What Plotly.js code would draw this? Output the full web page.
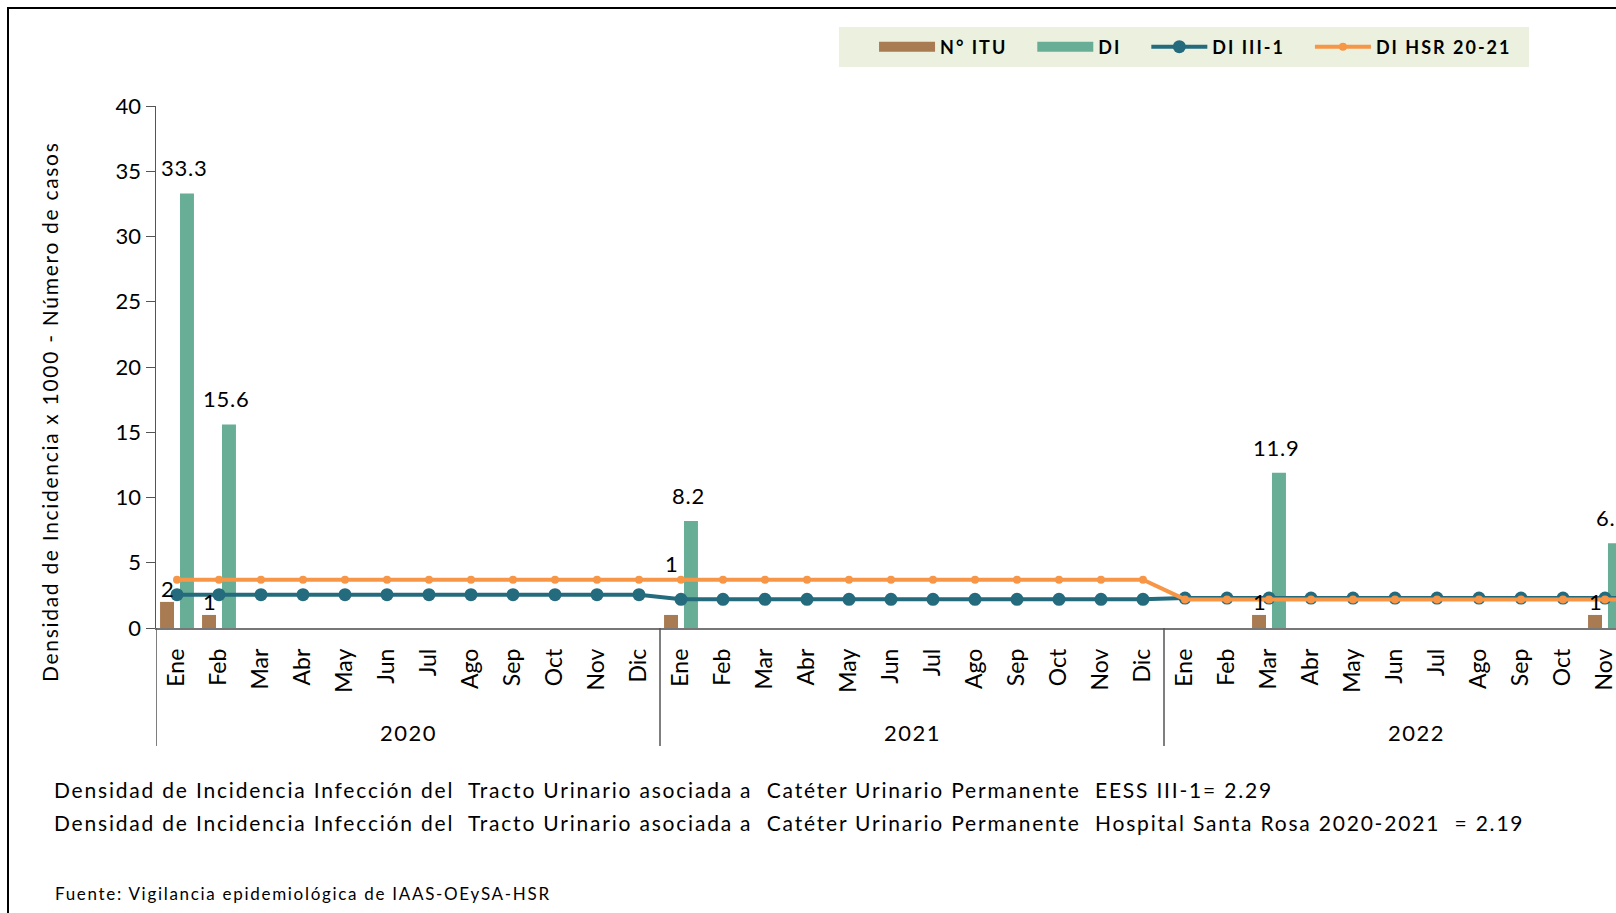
<!DOCTYPE html>
<html>
<head>
<meta charset="utf-8">
<script src="https://cdn.plot.ly/plotly-3.0.1.min.js"></script>
<style>
html, body { margin:0; padding:0; overflow:hidden; background:#fff; }
#chart { position:absolute; left:0; top:0; width:1760px; height:913px; }
#frame { position:absolute; left:7px; top:7px; width:1800px; height:1000px; border:2px solid #000; pointer-events:none; z-index:10; }
</style>
</head>
<body>
<div id="chart"></div>
<div id="frame"></div>
<script>
// ---- data ----
const months = ['Ene','Feb','Mar','Abr','May','Jun','Jul','Ago','Sep','Oct','Nov','Dic'];
const years = ['2020','2021','2022'];
const nITU = [2,1,0,0,0,0,0,0,0,0,0,0,
              1,0,0,0,0,0,0,0,0,0,0,0,
              0,0,1,0,0,0,0,0,0,0,1,0];
const di = [33.3,15.6,0,0,0,0,0,0,0,0,0,0,
            8.2,0,0,0,0,0,0,0,0,0,0,0,
            0,0,11.9,0,0,0,0,0,0,0,6.5,0];
const diIII1 = [2.55,2.55,2.55,2.55,2.55,2.55,2.55,2.55,2.55,2.55,2.55,2.55,
                2.2,2.2,2.2,2.2,2.2,2.2,2.2,2.2,2.2,2.2,2.2,2.2,
                2.29,2.29,2.29,2.29,2.29,2.29,2.29,2.29,2.29,2.29,2.29,2.29];
const diHSR = [3.7,3.7,3.7,3.7,3.7,3.7,3.7,3.7,3.7,3.7,3.7,3.7,
               3.7,3.7,3.7,3.7,3.7,3.7,3.7,3.7,3.7,3.7,3.7,3.7,
               2.19,2.19,2.19,2.19,2.19,2.19,2.19,2.19,2.19,2.19,2.19,2.19];
const seriesNames = ['N° ITU','DI','DI III-1','DI HSR 20-21'];
const yTickVals = [0,5,10,15,20,25,30,35,40];
const yTitle = 'Densidad de Incidencia x 1000 - Número de casos';
const notes = [
  'Densidad de Incidencia Infección del  Tracto Urinario asociada a  Catéter Urinario Permanente  EESS III-1= 2.29',
  'Densidad de Incidencia Infección del  Tracto Urinario asociada a  Catéter Urinario Permanente  Hospital Santa Rosa 2020-2021  = 2.19'
];
const source = 'Fuente: Vigilancia epidemiológica de IAAS-OEySA-HSR';

// ---- derived ----
const idx = [];
const tickText = [];
years.forEach((y, yi) => months.forEach((m, mi) => { idx.push(yi*12+mi); tickText.push(m); }));

const FONT = 'Lato, "Open Sans", sans-serif';
const C_ITU = '#A97B52', C_DI = '#68AE96', C_III = '#246B7E', C_HSR = '#F79646';
const sp = (t, px) => '<span style="letter-spacing:' + px + 'px">' + t + '</span>';
// legend label: tracked text, with extra space after the last letter to separate entries
const legName = t => '<b>' + sp(t.slice(0, -1), 2) + sp(t.slice(-1), 22) + '</b>';

const traces = [
  {type:'bar', name:seriesNames[0], x:idx, y:nITU, marker:{color:C_ITU}, showlegend:false, legendgroup:'itu'},
  {type:'bar', name:seriesNames[1], x:idx, y:di, marker:{color:C_DI}, showlegend:false, legendgroup:'di'},
  // legend swatches for the bar series (wide rectangles as in the original legend)
  {type:'scatter', mode:'lines', name:legName(seriesNames[0]), x:[null], y:[null], legendgroup:'itu',
   line:{color:C_ITU, width:14}, hoverinfo:'skip'},
  {type:'scatter', mode:'lines', name:legName(seriesNames[1]), x:[null], y:[null], legendgroup:'di',
   line:{color:C_DI, width:14}, hoverinfo:'skip'},
  {type:'scatter', mode:'lines+markers', name:legName(seriesNames[2]), x:idx, y:diIII1,
   line:{color:C_III, width:4}, marker:{color:C_III, size:13}},
  {type:'scatter', mode:'lines+markers', name:legName(seriesNames[3]), x:idx, y:diHSR,
   line:{color:C_HSR, width:4}, marker:{color:C_HSR, size:8}}
];

const annotations = [];
const ituLift = {12: 38}; // label moved up in original
nITU.forEach((v, i) => { if (v > 0) annotations.push({x:idx[i], y:v, xref:'x', yref:'y', text:String(v),
  showarrow:false, xanchor:'center', yanchor:'bottom', xshift:-10, yshift:-2 + (ituLift[i]||0),
  font:{family:FONT, size:22, color:'#000'}}); });
di.forEach((v, i) => { if (v > 0) annotations.push({x:idx[i], y:v, xref:'x', yref:'y', text:sp(v.toFixed(1),0.8),
  showarrow:false, xanchor:'center', yanchor:'bottom', xshift:7, yshift:10,
  font:{family:FONT, size:22, color:'#000'}}); });
years.forEach((y, yi) => annotations.push({x:yi*12+5.5, y:0, xref:'x', yref:'paper', text:sp(y,1.5),
  showarrow:false, xanchor:'center', yanchor:'middle', yshift:-104, font:{family:FONT, size:22, color:'#000'}}));
annotations.push({x:0, y:0.5, xref:'paper', yref:'paper', text:sp(yTitle,1.7), textangle:-90, showarrow:false,
  xanchor:'center', yanchor:'middle', xshift:-107, yshift:-45, font:{family:FONT, size:21, color:'#000'}});
notes.forEach((t, k) => annotations.push({x:0, y:0, xref:'paper', yref:'paper', text:sp(t,1.8), showarrow:false,
  xanchor:'left', yanchor:'middle', xshift:-104, yshift:-161 - 33*k, font:{family:FONT, size:21, color:'#000'}}));
annotations.push({x:0, y:0, xref:'paper', yref:'paper', text:sp(source,1.7), showarrow:false,
  xanchor:'left', yanchor:'middle', xshift:-103, yshift:-265, font:{family:FONT, size:17, color:'#000'}});

const shapes = [];
for (let yi = 0; yi <= years.length; yi++) {
  shapes.push({type:'line', xref:'x', yref:'paper', x0:yi*12-0.5, x1:yi*12-0.5, y0:0, y1:-0.226,
    line:{color:'#555', width:1.5}});
}
// legend background panel
shapes.push({type:'rect', xref:'paper', yref:'paper', x0:0.4517, x1:0.9081, y0:1.0747, y1:1.1513,
  fillcolor:'#EBF1DE', line:{width:0}, layer:'below'});

const layout = {
  width:1760, height:913,
  margin:{l:156, r:92, t:106, b:285},
  paper_bgcolor:'rgba(0,0,0,0)', plot_bgcolor:'rgba(0,0,0,0)',
  font:{family:FONT, size:21, color:'#000'},
  barmode:'group', bargap:0.05, bargroupgap:0.3,
  showlegend:true,
  legend:{orientation:'h', x:0.4749, xanchor:'left', y:1.113, yanchor:'middle',
    bgcolor:'rgba(0,0,0,0)', font:{family:FONT, size:18, color:'#000'}, itemwidth:56, traceorder:'normal'},
  xaxis:{range:[-0.5, 35.5], tickmode:'array', tickvals:idx, ticktext:tickText, tickangle:-90,
    showgrid:false, zeroline:false, showline:true, linecolor:'#777', linewidth:1.5, ticks:'',
    ticklabelstandoff:10, tickfont:{family:FONT, size:23, color:'#000'}},
  yaxis:{range:[0,40], tickmode:'array', tickvals:yTickVals, showgrid:false, zeroline:false,
    showline:true, linecolor:'#555', linewidth:1.5, ticks:'outside', ticklen:9, tickcolor:'#555',
    tickfont:{family:FONT, size:22, color:'#000'}},
  annotations:annotations, shapes:shapes
};

Plotly.newPlot('chart', traces, layout, {displayModeBar:false, staticPlot:true});
</script>
</body>
</html>
